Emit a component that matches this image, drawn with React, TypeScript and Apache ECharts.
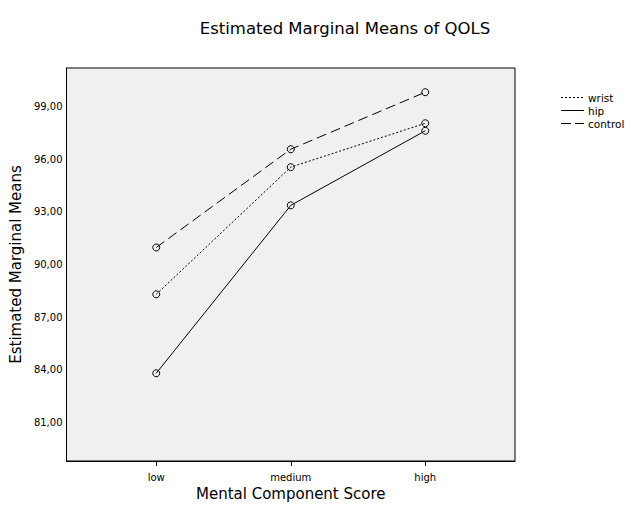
import React, { useEffect, useRef } from "react";
import * as echarts from "echarts";

const categories = ["low", "medium", "high"];
const wrist = [88.3, 95.55, 98.05];
const hip = [83.8, 93.37, 97.62];
const control = [90.97, 96.57, 99.82];
const yTicks = [81, 84, 87, 90, 93, 96, 99];

const FONT = "DejaVu Sans, sans-serif";

export default function App() {
  const ref = useRef<HTMLDivElement>(null);
  useEffect(() => {
    document.body.style.margin = "0";
    const chart = echarts.init(ref.current!, undefined, { renderer: "svg" });
    const mk = (name: string, data: number[], dash: any) => ({
      name,
      type: "line",
      data: data.map((v, i) => [i, v]),
      symbol: "circle",
      symbolSize: 7,
      itemStyle: { color: "transparent", borderColor: "#000", borderWidth: 1 },
      lineStyle: { color: "#000", width: 1, type: dash },
      emphasis: { disabled: true },
    });
    const legendItems = [
      { name: "wrist", dash: [2, 2], y: 97.5 },
      { name: "hip", dash: null, y: 110.5 },
      { name: "control", dash: [10, 4], y: 123.5 },
    ];
    chart.setOption({
      animation: false,
      backgroundColor: "#fff",
      textStyle: { fontFamily: FONT },
      title: {
        text: "Estimated Marginal Means of QOLS",
        left: 340,
        top: 15,
        textAlign: "center",
        textStyle: { fontFamily: FONT, fontSize: 16.5, fontWeight: "normal", color: "#000" },
      },
      grid: { left: 64, top: 68, right: 119, bottom: 47, show: true, backgroundColor: "#f0f0f0", borderColor: "#000", borderWidth: 1 },
      xAxis: {
        type: "value",
        min: -0.667,
        max: 2.667,
        name: "Mental Component Score",
        nameLocation: "middle",
        nameGap: 25,
        nameTextStyle: { fontFamily: FONT, fontSize: 15, color: "#000" },
        axisLine: { show: true, onZero: false, lineStyle: { color: "#000" } },
        axisTick: { show: true, customValues: [0, 1, 2], length: 5, lineStyle: { color: "#000" } },
        axisLabel: {
          customValues: [0, 1, 2],
          formatter: (v: number) => categories[Math.round(v)] ?? "",
          fontFamily: FONT,
          fontSize: 10,
          color: "#000",
          margin: 11,
        },
        splitLine: { show: false },
      },
      yAxis: {
        type: "value",
        min: 78.8,
        max: 101.2,
        name: "Estimated Marginal Means",
        nameLocation: "middle",
        nameGap: 38,
        nameTextStyle: { fontFamily: FONT, fontSize: 15, color: "#000" },
        axisLine: { show: true, onZero: false, lineStyle: { color: "#000" } },
        axisTick: { show: false },
        axisLabel: {
          customValues: yTicks,
          formatter: (v: number) => v.toFixed(2).replace(".", ","),
          fontFamily: FONT,
          fontSize: 10,
          color: "#000",
          margin: 4,
        },
        splitLine: { show: false },
      },
      series: [mk("wrist", wrist, [2, 2]), mk("hip", hip, "solid"), mk("control", control, [10, 5])],
      graphic: legendItems.flatMap((it) => [
        {
          type: "line",
          shape: { x1: 561, y1: it.y, x2: 584, y2: it.y },
          style: { stroke: "#000", lineWidth: 1, lineDash: it.dash ?? undefined },
        },
        {
          type: "text",
          x: 588,
          y: it.y,
          style: { text: it.name, fill: "#000", font: `10.5px ${FONT}`, lineHeight: 11, verticalAlign: "middle" },
        },
      ]),
    });
    return () => chart.dispose();
  }, []);
  return <div ref={ref} style={{ width: 634, height: 508 }} />;
}
